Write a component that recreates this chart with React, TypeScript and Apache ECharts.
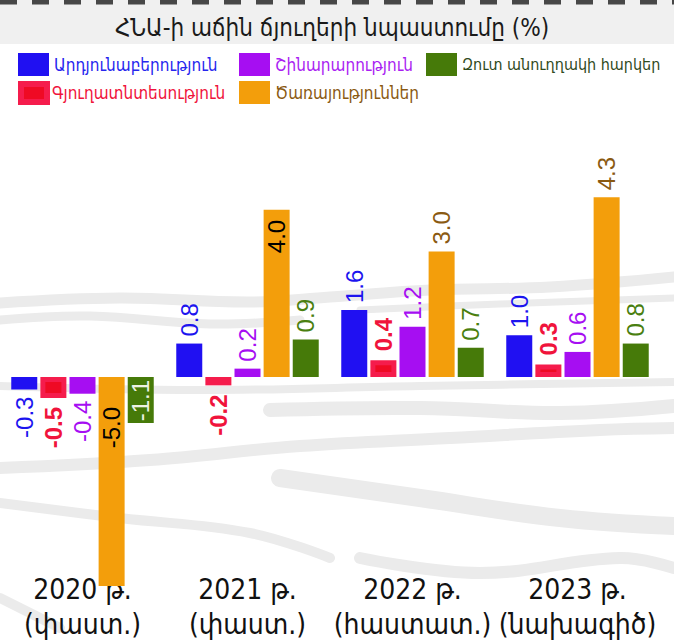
import React, { useEffect, useRef } from "react";
import * as echarts from "echarts";

const titleText = "ՀՆԱ-ի աճին ճյուղերի նպաստումը (%)";
const categories = ["2020 թ.\n(փաստ.)", "2021 թ.\n(փաստ.)", "2022 թ.\n(հաստատ.)", "2023 թ.\n(նախագիծ)"];

const industry = [-0.3, 0.8, 1.6, 1.0];
const agriculture = [-0.5, -0.2, 0.4, 0.3];
const construction = [-0.4, 0.2, 1.2, 0.6];
const services = [-5.0, 4.0, 3.0, 4.3];
const netTaxes = [-1.1, 0.9, 0.7, 0.8];

const seriesNames = [
  "Արդյունաբերություն",
  "Գյուղատնտեսություն",
  "Շինարարություն",
  "Ծառայություններ",
  "Զուտ անուղղակի հարկեր",
];

const ARM = "'DejaVu Sans Condensed', 'DejaVu Sans', sans-serif";
const NUM = "'Liberation Sans', Arial, sans-serif";

type LabelSpec = { inside?: boolean; color?: string; distance?: number };

function buildData(values: number[], color: string, bold: boolean, specs: (LabelSpec | null)[]) {
  return values.map((v, i) => {
    const s = specs[i] || {};
    const base: any = {
      show: true,
      rotate: 90,
      fontSize: 24,
      fontFamily: NUM,
      fontWeight: bold ? "bold" : "normal",
      color: s.color || color,
      verticalAlign: "middle",
      formatter: (p: any) => Number(p.value).toFixed(1),
    };
    if (s.inside) {
      base.position = "insideTop";
      base.align = "right";
      base.distance = s.distance ?? 8;
    } else if (v >= 0) {
      base.position = "top";
      base.align = "left";
      base.distance = s.distance ?? 7;
    } else {
      base.position = "bottom";
      base.align = "right";
      base.distance = s.distance ?? 7;
    }
    return { value: v, label: base };
  });
}

export default function App() {
  const ref = useRef<HTMLDivElement>(null);
  useEffect(() => {
    if (!ref.current) return;
    document.body.style.margin = "0";
    const chart = echarts.init(ref.current, null, { renderer: "svg" });
    const colors = ["#2010f2", "#ef0a24", "#a60ef2", "#f39e0b", "#467a09"];
    const labelColors = ["#1c14ef", "#f0143c", "#a60ef2", "#8a5a12", "#4a7f10"];
    const legendText = ["#2626ee", "#f0143c", "#aa1ef2", "#8a5a12", "#2f4a1c"];

    const series: any[] = [
      {
        name: seriesNames[0],
        type: "bar",
        barWidth: 26,
        barGap: "12%",
        itemStyle: { color: colors[0] },
        data: buildData(industry, labelColors[0], false, [null, null, null, null]),
      },
      {
        name: seriesNames[1],
        type: "bar",
        barWidth: 26,
        barGap: "12%",
        itemStyle: { color: colors[1], borderColor: "#f51c4c", borderWidth: 5 },
        data: buildData(agriculture, labelColors[1], true, [
          { distance: 9 },
          { distance: 9 },
          { distance: 9 },
          { distance: 9 },
        ]),
      },
      {
        name: seriesNames[2],
        type: "bar",
        barWidth: 26,
        barGap: "12%",
        itemStyle: { color: colors[2] },
        data: buildData(construction, labelColors[2], false, [null, null, null, null]),
      },
      {
        name: seriesNames[3],
        type: "bar",
        barWidth: 26,
        barGap: "12%",
        itemStyle: { color: colors[3] },
        data: buildData(services, labelColors[3], false, [
          { inside: true, color: "#000000", distance: 30 },
          { inside: true, color: "#000000", distance: 10 },
          null,
          null,
        ]),
      },
      {
        name: seriesNames[4],
        type: "bar",
        barWidth: 26,
        barGap: "12%",
        itemStyle: { color: colors[4] },
        data: buildData(netTaxes, labelColors[4], false, [
          { inside: true, color: "#eef2e4", distance: 3 },
          null,
          null,
          null,
        ]),
      },
    ];

    const mkLegend = (idx: number, left: number, top: number, extra: any = {}) => ({
      data: [seriesNames[idx]],
      left,
      top,
      icon: "rect",
      itemWidth: 31,
      itemHeight: 23,
      itemGap: 5,
      textStyle: { color: legendText[idx], fontSize: 17, fontFamily: ARM },
      selectedMode: false,
      ...extra,
    });

    const bg = "#ebebeb";
    const band = (pts: number[][], w: number) => ({
      type: "polyline",
      silent: true,
      z: -10,
      shape: { points: pts, smooth: 0.4 },
      style: { stroke: bg, lineWidth: w, fill: null, lineCap: "round" },
    });

    chart.setOption({
      animation: false,
      backgroundColor: "#ffffff",
      title: {
        text: titleText,
        left: 327,
        textAlign: "center",
        top: 11,
        textStyle: { fontSize: 24, fontWeight: "normal", color: "#1a1a1a", fontFamily: ARM },
      },
      legend: [
        mkLegend(0, 13, 48),
        mkLegend(2, 234, 48),
        mkLegend(4, 421, 48, { textStyle: { color: legendText[4], fontSize: 16, fontFamily: ARM } }),
        mkLegend(1, 13, 76, { itemWidth: 26, itemHeight: 18, itemStyle: { borderWidth: 6, borderColor: "#f51c4c" } }),
        mkLegend(3, 234, 76),
      ],
      graphic: {
        elements: [
          { type: "rect", silent: true, z: -10, shape: { x: 0, y: 0, width: 674, height: 44 }, style: { fill: "#f0f0f0" } },
          {
            type: "line",
            silent: true,
            z: -5,
            shape: { x1: 0, y1: 2, x2: 674, y2: 2 },
            style: { stroke: "#474747", lineWidth: 5, lineDash: [17, 15] },
          },
          band([[0, 303], [120, 298], [250, 302], [330, 297], [430, 290], [550, 287], [674, 277]], 11),
          band([[0, 320], [90, 316], [210, 324], [300, 320]], 9),
          band([[360, 310], [500, 304], [674, 298]], 7),
          band([[0, 386], [200, 390], [420, 386], [674, 382]], 8),
          band([[270, 410], [420, 408], [560, 413], [674, 406]], 14),
          band([[0, 468], [150, 460], [300, 446], [450, 438], [600, 430], [674, 428]], 12),
          band([[280, 478], [420, 498], [560, 518], [674, 526]], 18),
          band([[0, 503], [120, 518], [250, 533], [330, 558]], 10),
          band([[360, 558], [480, 573], [620, 558], [674, 568]], 12),
          band([[0, 598], [60, 628]], 10),
        ],
      },
      grid: { left: -12, right: 14, top: 168, bottom: 54, containLabel: false },
      xAxis: {
        type: "category",
        data: categories,
        axisLine: { show: false },
        axisTick: { show: false },
        splitLine: { show: false },
        axisLabel: {
          margin: -14,
          fontSize: 28,
          lineHeight: 35,
          color: "#111111",
          fontFamily: "'DejaVu Sans Condensed', sans-serif",
          interval: 0,
        },
      },
      yAxis: {
        type: "value",
        min: -5,
        max: 5,
        show: false,
        splitLine: { show: false },
      },
      series,
    });
    return () => chart.dispose();
  }, []);
  return <div ref={ref} style={{ width: 674, height: 642 }} />;
}
